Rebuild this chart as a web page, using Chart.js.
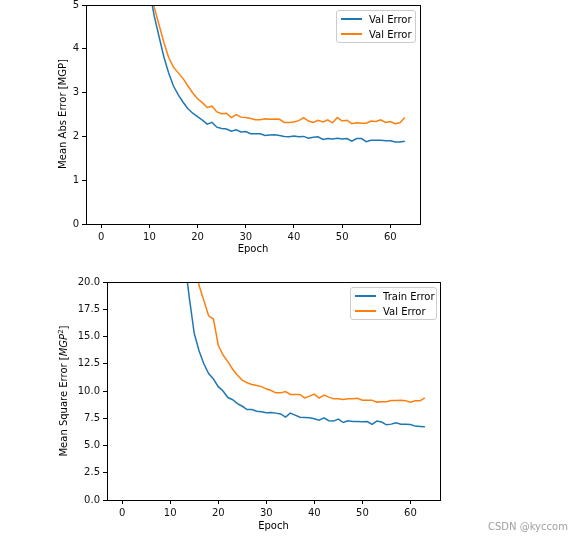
<!DOCTYPE html>
<html>
<head>
<meta charset="utf-8">
<script src="https://cdn.jsdelivr.net/npm/chart.js@4.4.1/dist/chart.umd.min.js"></script>
<style>
  html, body { margin:0; padding:0; background:#fff; }
  body { width:585px; height:543px; position:relative; overflow:hidden; font-family:"DejaVu Sans", sans-serif; }
  .cv { position:absolute; left:0; }
  .txt { position:absolute; font-size:10px; line-height:12px; color:#000; white-space:nowrap; }
  .ytitle { position:absolute; font-size:10px; line-height:12px; color:#000; white-space:nowrap; transform:translate(-50%,-50%) rotate(-90deg); }
  .legend { position:absolute; border:1px solid #cccccc; border-radius:3px; background:rgba(255,255,255,0.8); box-sizing:border-box; }
  .lg-line { position:absolute; height:2px; }
  .lg-text { position:absolute; font-size:10px; line-height:12px; color:#000; white-space:nowrap; }
  .wm { position:absolute; font-size:10px; line-height:12px; color:#a0a0a0; white-space:nowrap; }
</style>
</head>
<body>
<canvas id="c1" class="cv" width="585" height="270" style="top:0;width:585px;height:270px"></canvas>
<canvas id="c2" class="cv" width="585" height="273" style="top:270px;width:585px;height:273px"></canvas>

<div class="ytitle" style="left:63px;top:114px">Mean Abs Error [MGP]</div>
<div class="txt" style="left:253px;top:243px;transform:translateX(-50%)">Epoch</div>
<div class="ytitle" style="left:64px;top:391px">Mean Square Error [<i>MGP</i><sup style="font-size:7px;line-height:0">2</sup>]</div>
<div class="txt" style="left:273.5px;top:520px;transform:translateX(-50%)">Epoch</div>

<div class="legend" style="left:336px;top:10px;width:80px;height:33px">
  <div class="lg-line" style="left:4px;top:7px;width:21px;background:#1f77b4"></div>
  <div class="lg-text" style="left:32px;top:3px">Val Error</div>
  <div class="lg-line" style="left:4px;top:22px;width:21px;background:#ff7f0e"></div>
  <div class="lg-text" style="left:32px;top:18px">Val Error</div>
</div>
<div class="legend" style="left:350px;top:287px;width:87px;height:33px">
  <div class="lg-line" style="left:4px;top:7px;width:21px;background:#1f77b4"></div>
  <div class="lg-text" style="left:32px;top:3px">Train Error</div>
  <div class="lg-line" style="left:4px;top:22px;width:21px;background:#ff7f0e"></div>
  <div class="lg-text" style="left:32px;top:18px">Val Error</div>
</div>

<div class="wm" style="left:488px;top:521px">CSDN @kyccom</div>

<script>
// ---- data ----
const epochs = [0,1,2,3,4,5,6,7,8,9,10,11,12,13,14,15,16,17,18,19,20,21,22,23,24,25,26,27,28,29,30,31,32,33,34,35,36,37,38,39,40,41,42,43,44,45,46,47,48,49,50,51,52,53,54,55,56,57,58,59,60,61,62,63];

const maeTrain = [22.6,21.9,21.0,19.8,18.2,16.1,13.6,10.9,8.3,6.4,
  5.35,4.75,4.28,3.82,3.45,3.15,2.95,2.78,2.63,2.53,
  2.45,2.37,2.28,2.32,2.21,2.18,2.17,2.12,2.15,2.10,
  2.11,2.06,2.06,2.06,2.02,2.03,2.04,2.02,2.00,1.99,
  2.01,1.99,2.00,1.96,1.98,1.99,1.93,1.95,1.94,1.96,
  1.94,1.95,1.89,1.95,1.95,1.88,1.91,1.91,1.91,1.90,
  1.90,1.87,1.87,1.89];

const maeVal = [22.3,21.5,20.4,18.9,16.9,14.4,11.6,9.0,7.0,6.1,
  5.45,4.95,4.55,4.15,3.80,3.58,3.45,3.32,3.15,2.99,
  2.86,2.77,2.66,2.69,2.56,2.52,2.53,2.43,2.50,2.44,
  2.43,2.41,2.38,2.38,2.40,2.39,2.40,2.39,2.32,2.32,
  2.33,2.36,2.43,2.35,2.32,2.37,2.33,2.38,2.31,2.43,
  2.35,2.37,2.29,2.31,2.30,2.30,2.35,2.34,2.38,2.32,
  2.34,2.29,2.31,2.43];

const mseTrain = [590,560,520,470,400,320,230,150,90,55,
  38,30,25.5,22.0,18.5,15.3,13.7,12.5,11.6,11.1,
  10.4,10.0,9.4,9.2,8.85,8.6,8.3,8.3,8.15,8.1,
  8.0,8.03,7.97,7.9,7.6,7.97,7.79,7.6,7.57,7.54,
  7.45,7.33,7.54,7.27,7.24,7.42,7.11,7.27,7.2,7.2,
  7.18,7.2,6.93,7.24,7.15,6.9,6.96,7.08,6.96,6.96,
  6.93,6.78,6.75,6.72];

const mseVal = [580,550,500,440,360,270,180,110,65,45,
  37,32,28.5,26,24,22.5,19.7,18.3,16.9,16.6,
  14.2,13.3,12.7,12.0,11.45,11.0,10.75,10.6,10.5,10.4,
  10.2,10.05,9.83,9.83,9.95,9.68,9.68,9.68,9.37,9.53,
  9.71,9.34,9.62,9.44,9.28,9.28,9.22,9.28,9.28,9.34,
  9.16,9.16,9.16,8.98,9.01,9.01,9.13,9.13,9.16,9.1,
  8.98,9.1,9.1,9.37];

const xTicks = [0,10,20,30,40,50,60];
const maeTicks = [0,1,2,3,4,5];
const mseTicks = [0,2.5,5,7.5,10,12.5,15,17.5,20];

const BLUE = '#1f77b4', ORANGE = '#ff7f0e';

function pts(ys){ return epochs.map((e,i)=>({x:e, y:ys[i]})); }

const framePlugin = {
  id:'frame',
  afterDraw(chart){
    const a = chart.chartArea, ctx = chart.ctx;
    ctx.save();
    ctx.strokeStyle = '#000';
    ctx.lineWidth = 1;
    const l = Math.round(a.left), t = Math.round(a.top), r = Math.round(a.right), b = Math.round(a.bottom);
    ctx.strokeRect(l+0.5, t+0.5, r-l, b-t);
    ctx.restore();
  }
};

function makeChart(id, s1, s2, yTicks, yMax, yFmt, geom){
  const font = {family:'"DejaVu Sans", sans-serif', size:10};
  return new Chart(document.getElementById(id), {
    type:'line',
    data:{ datasets:[
      {label:'a', data:pts(s1), borderColor:BLUE, borderWidth:1.5, pointRadius:0, tension:0, fill:false},
      {label:'b', data:pts(s2), borderColor:ORANGE, borderWidth:1.5, pointRadius:0, tension:0, fill:false}
    ]},
    options:{
      responsive:false, animation:false, devicePixelRatio:1,
      events:[],
      layout:{padding:{left:0, top:geom.top, right:geom.right, bottom:0}},
      plugins:{legend:{display:false}, title:{display:false}, tooltip:{enabled:false}},
      scales:{
        x:{
          type:'linear', min:-3.15, max:66.15,
          border:{display:false},
          grid:{drawOnChartArea:false, drawTicks:true, tickLength:4, tickColor:'#000', tickWidth:1, color:'#000'},
          ticks:{font, color:'#111', padding:3, autoSkip:false, maxRotation:0, callback:v=>String(v)},
          afterBuildTicks:s=>{ s.ticks = xTicks.map(v=>({value:v})); },
          afterFit:s=>{ s.height = geom.xh; s.paddingLeft=0; s.paddingRight=0; s.paddingTop=0; s.paddingBottom=0; }
        },
        y:{
          type:'linear', min:0, max:yMax,
          border:{display:false},
          grid:{drawOnChartArea:false, drawTicks:true, tickLength:4, tickColor:'#000', tickWidth:1, color:'#000'},
          ticks:{font, color:'#111', padding:3, autoSkip:false, callback:yFmt},
          afterBuildTicks:s=>{ s.ticks = yTicks.map(v=>({value:v})); },
          afterFit:s=>{ s.width = geom.yw; s.paddingLeft=0; s.paddingRight=0; s.paddingTop=0; s.paddingBottom=0; }
        }
      }
    },
    plugins:[framePlugin]
  });
}

makeChart('c1', maeTrain, maeVal, maeTicks, 5, v=>String(v), {top:5, right:165, yw:86, xh:46});
makeChart('c2', mseTrain, mseVal, mseTicks, 20, v=>Number(v).toFixed(1), {top:12, right:145, yw:107, xh:43});
</script>
</body>
</html>
